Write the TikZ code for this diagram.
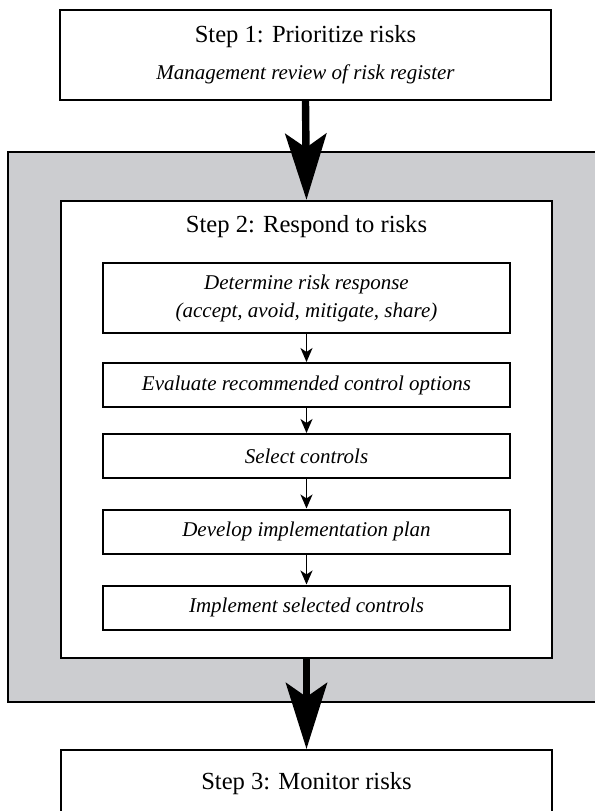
\documentclass[tikz,border=0pt]{standalone}
\usepackage{fontspec}
\setmainfont{Liberation Serif}
\usetikzlibrary{arrows.meta,positioning}
\definecolor{grisfond}{RGB}{204,205,208}

\begin{document}
\begin{tikzpicture}[x=0.5pt,y=-0.5pt,>=Stealth,
  etape/.style={draw,line width=1.2pt,fill=white,minimum width=245.5pt,align=center,font=\fontsize{12.3}{15}\selectfont},
  tache/.style={draw,line width=1pt,minimum width=203.5pt,minimum height=22pt,align=center,font=\fontsize{10.5}{14}\selectfont\itshape},
  fleche/.style={-{Stealth[length=7pt,width=6pt,inset=2pt]},line width=0.9pt},
  grosse/.style={-{Stealth[length=33pt,width=20.5pt,inset=7pt]},line width=3.7pt}]
  \useasboundingbox (0,0) rectangle (595,811);
  % cadre gris
  \draw[line width=1.2pt,fill=grisfond] (8,152) rectangle (610,702);
  \node[etape,minimum height=228.5pt] (cadre) at (306.5,429.5) {};
  % etapes 1 et 3
  \node[etape,minimum height=45pt] (e1) at (305.5,55)
    {Step 1: Prioritize risks\\[3.5pt]{\fontsize{10.5}{14}\selectfont\itshape Management review of risk register}};
  \node[etape,anchor=north,minimum height=60pt,text depth=29pt] (e3) at (306.5,749) {Step 3: Monitor risks};
  \node[font=\fontsize{12.3}{15}\selectfont] (e2) at (306.5,227) {Step 2: Respond to risks};
  % taches
  \node[tache,minimum height=35pt] (t1) at (306.5,298)
    {Determine risk response\\(accept, avoid, mitigate, share)};
  \node[tache] (t2) at (306.5,385) {Evaluate recommended control options};
  \node[tache] (t3) at (306.5,456) {Select controls};
  \node[tache] (t4) at (306.5,531.5) {Develop implementation plan};
  \node[tache] (t5) at (306.5,607.5) {Implement selected controls};
  % fleches
  \draw[fleche] (t1) -- (t2);
  \draw[fleche] (t2) -- (t3);
  \draw[fleche] (t3) -- (t4);
  \draw[fleche] (t4) -- (t5);
  \draw[grosse] (e1.south) -- (cadre.north);
  \draw[grosse] (cadre.south) -- (e3.north);
\end{tikzpicture}
\end{document}
